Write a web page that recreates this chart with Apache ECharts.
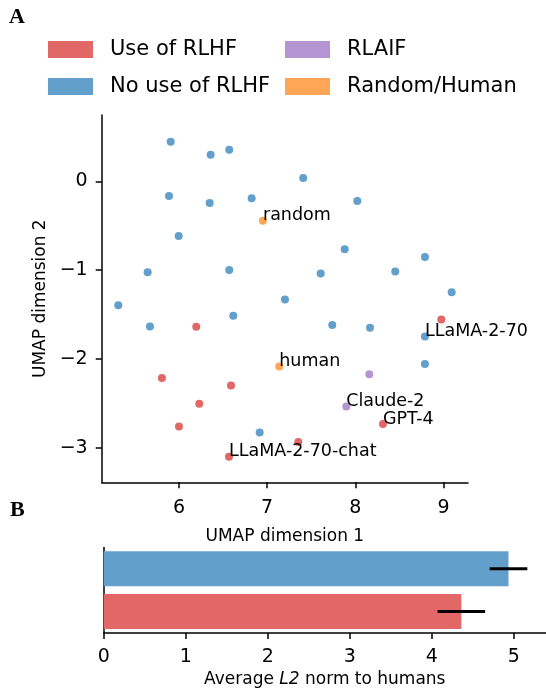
<!DOCTYPE html>
<html>
<head>
<meta charset="utf-8">
<script src="https://cdn.jsdelivr.net/npm/echarts@6/dist/echarts.min.js"></script>
<style>
html,body{margin:0;padding:0;background:#fff;}
#main{width:546px;height:689px;}
</style>
</head>
<body>
<div id="main"></div>
<script>
// ---- Panel A data (UMAP coordinates) ----
const rlhfPts = [[6.196,-1.637],[8.974,-1.555],[5.807,-2.213],[6.590,-2.297],[6.230,-2.502],[6.000,-2.757],[8.313,-2.730],[7.353,-2.933],[6.567,-3.098]];
const rlhfNames = ['','','','','','','GPT-4','','LLaMA-2-70-chat'];
const noRlhfPts = [[5.906,0.445],[6.359,0.299],[6.570,0.355],[7.409,0.037],[5.887,-0.165],[6.348,-0.244],[6.824,-0.191],[8.022,-0.221],[5.997,-0.615],[5.645,-1.022],[6.570,-0.997],[7.607,-1.038],[7.879,-0.764],[8.452,-1.016],[8.789,-0.851],[5.312,-1.393],[7.202,-1.330],[9.092,-1.249],[5.671,-1.634],[6.616,-1.513],[7.738,-1.615],[8.166,-1.648],[8.789,-1.746],[8.789,-2.056],[6.915,-2.825]];
const noRlhfNames = ['','','','','','','','','','','','','','','','','','','','','','','LLaMA-2-70','',''];
const rlaifPts = [[8.158,-2.169],[7.897,-2.533]];
const rlaifNames = ['','Claude-2'];
const refPts = [[6.952,-0.443],[7.137,-2.083]];
const refNames = ['random','human'];
const xTicksA = [6,7,8,9];
const yTicksA = [-3,-2,-1,0];

// ---- Panel B data ----
const barCats = ['Use of RLHF','No use of RLHF'];
const barVals = [4.36,4.935];
const barErr = [0.29,0.23];
const xTicksB = [0,1,2,3,4,5];

const C = {red:'#e26868', blue:'#62a0cb', purple:'#b494d1', orange:'#ffa556'};
const FONT = 'DejaVu Sans';

function pts(arr, names){
  return arr.map((p,i)=>{
    const o = {value:p};
    if(names[i]) o.label = {show:true, formatter:names[i]};
    return o;
  });
}
const fmt = v => (v<0 ? '\u2212'+Math.abs(v) : String(v));

const ptLabel = {show:false, position:[4,4], align:'left', verticalAlign:'bottom', offset:[0,4],
  fontSize:17.5, color:'#000', fontFamily:FONT};

function scatter(name, arr, names, color){
  return {type:'scatter', name, xAxisIndex:0, yAxisIndex:0, symbolSize:8,
    itemStyle:{color, opacity:1}, label:ptLabel, emphasis:{disabled:true},
    data:pts(arr,names), z:3};
}

const chart = echarts.init(document.getElementById('main'), null, {renderer:'canvas'});
chart.setOption({
  animation:false,
  backgroundColor:'#fff',
  textStyle:{fontFamily:FONT},
  graphic:[
    {type:'text', left:9, top:6, style:{text:'A', font:'bold 22px "Liberation Serif"', fill:'#000'}},
    {type:'text', left:10, top:499, style:{text:'B', font:'bold 22px "Liberation Serif"', fill:'#000'}}
  ],
  legend:[
    {data:['Use of RLHF','No use of RLHF'], orient:'vertical', left:48, top:39, padding:0,
     itemWidth:45, itemHeight:17, itemGap:16, icon:'rect', selectedMode:false,
     itemStyle:{borderWidth:0},
     textStyle:{fontSize:21, lineHeight:17, color:'#000', fontFamily:FONT, padding:[0,0,0,12]}},
    {data:['RLAIF','Random/Human'], orient:'vertical', left:285, top:39, padding:0,
     itemWidth:45, itemHeight:17, itemGap:16, icon:'rect', selectedMode:false,
     itemStyle:{borderWidth:0},
     textStyle:{fontSize:21, lineHeight:17, color:'#000', fontFamily:FONT, padding:[0,0,0,12]}}
  ],
  grid:[
    {left:101.7, top:115, width:366.3, height:367.3},
    {left:103.8, top:547.4, width:442, height:88.8}
  ],
  xAxis:[
    {type:'value', gridIndex:0, min:5.124, max:9.277, splitLine:{show:false},
     axisLine:{show:true, onZero:false, lineStyle:{color:'#000', width:1.5}},
     axisTick:{show:true, length:6, lineStyle:{color:'#000', width:1.5}, customValues:xTicksA},
     axisLabel:{customValues:xTicksA, fontSize:19, color:'#000', margin:16, fontFamily:FONT},
     name:'UMAP dimension 1', nameLocation:'middle', nameGap:46,
     nameTextStyle:{fontSize:17, color:'#000', fontFamily:FONT}},
    {type:'value', gridIndex:1, min:0, max:5.39, splitLine:{show:false},
     axisLine:{show:true, onZero:false, lineStyle:{color:'#000', width:1.5}},
     axisTick:{show:true, length:6, lineStyle:{color:'#000', width:1.5}, customValues:xTicksB},
     axisLabel:{customValues:xTicksB, fontSize:19, color:'#000', margin:15, fontFamily:FONT},
     name:'Average {i|L2} norm to humans', nameLocation:'middle', nameGap:38,
     nameTextStyle:{fontSize:17, color:'#000', fontFamily:FONT,
       rich:{i:{fontSize:17, fontStyle:'italic', color:'#000', fontFamily:FONT}}}}
  ],
  yAxis:[
    {type:'value', gridIndex:0, min:-3.385, max:0.745, splitLine:{show:false},
     axisLine:{show:true, onZero:false, lineStyle:{color:'#000', width:1.5}},
     axisTick:{show:true, length:6, lineStyle:{color:'#000', width:1.5}, customValues:yTicksA},
     axisLabel:{customValues:yTicksA, fontSize:19, color:'#000', margin:14, fontFamily:FONT, formatter:fmt},
     name:'UMAP dimension 2', nameLocation:'middle', nameGap:46, nameRotate:90,
     nameTextStyle:{fontSize:17, color:'#000', fontFamily:FONT}},
    {type:'category', gridIndex:1, data:barCats,
     axisLine:{show:true, lineStyle:{color:'#000', width:1.5}},
     axisTick:{show:false}, axisLabel:{show:false}, splitLine:{show:false}}
  ],
  series:[
    scatter('No use of RLHF', noRlhfPts, noRlhfNames, C.blue),
    scatter('Use of RLHF', rlhfPts, rlhfNames, C.red),
    scatter('RLAIF', rlaifPts, rlaifNames, C.purple),
    scatter('Random/Human', refPts, refNames, C.orange),
    {type:'bar', name:'bars', xAxisIndex:1, yAxisIndex:1, barWidth:35,
     data:barVals.map((v,i)=>({value:v, itemStyle:{color: i===0?C.red:C.blue}})),
     emphasis:{disabled:true}, z:2},
    {type:'custom', name:'err', xAxisIndex:1, yAxisIndex:1, z:5,
     data:barVals.map((v,i)=>[v, i, barErr[i]]),
     renderItem:function(params, api){
       const v = api.value(0), c = api.value(1), e = api.value(2);
       const p1 = api.coord([v-e, c]), p2 = api.coord([v+e, c]);
       return {type:'line', shape:{x1:p1[0], y1:p1[1], x2:p2[0], y2:p2[1]},
         style:{stroke:'#000', lineWidth:3}};
     }}
  ]
});
</script>
</body>
</html>
